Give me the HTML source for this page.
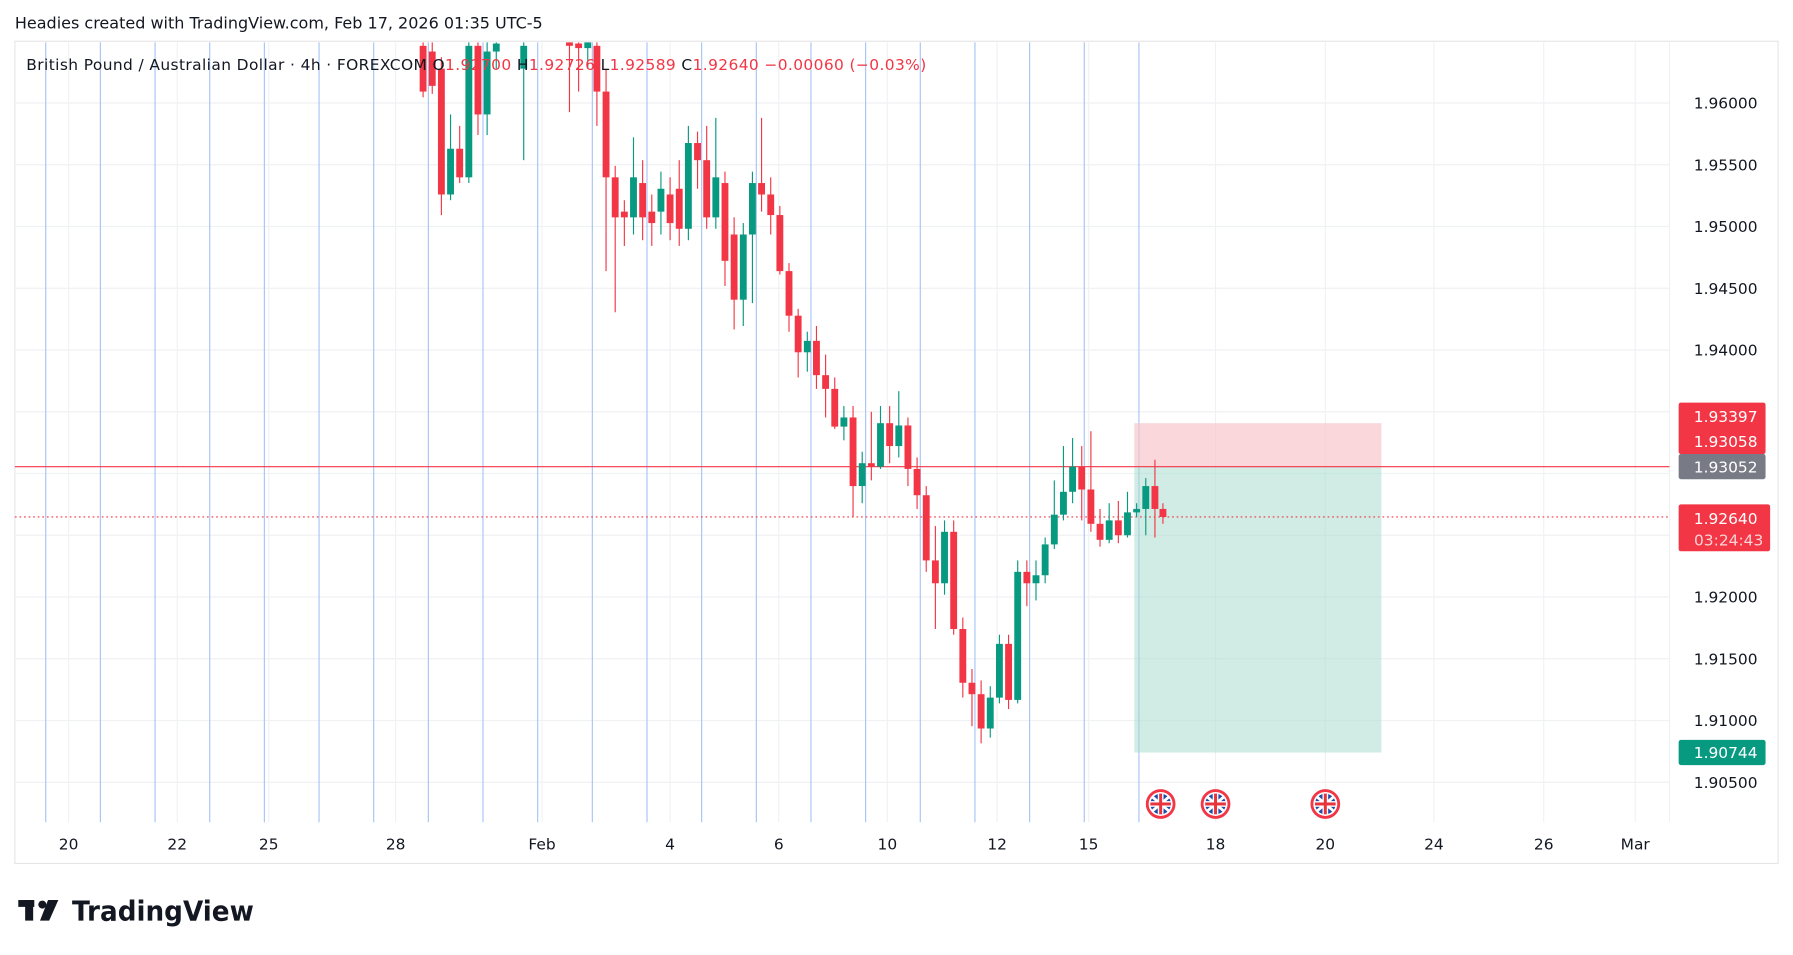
<!DOCTYPE html>
<html><head><meta charset="utf-8"><style>
html,body{margin:0;padding:0;background:#fff;width:1793px;height:955px;overflow:hidden}
svg{display:block}
text{font-family:"DejaVu Sans","Liberation Sans",sans-serif}
</style></head><body>
<svg id="s" width="1793" height="955" viewBox="0 0 1568 835" xmlns="http://www.w3.org/2000/svg">
<rect width="1568" height="835" fill="#fff"/>
<text x="13" y="25" font-size="14" fill="#131722">Headies created with TradingView.com, Feb 17, 2026 01:35 UTC-5</text>
<rect x="13" y="36" width="1542" height="719" fill="none" stroke="#e6e6e6"/>
<g id="grid"></g>
<g id="vl"></g>
<rect x="992" y="370" width="216" height="38" fill="#f7c6cc" opacity="0.7"/>
<rect x="992" y="408" width="216" height="250" fill="#a9dccf" opacity="0.55"/>
<line x1="13" y1="408" x2="1460" y2="408" stroke="#f23645" stroke-width="1"/>
<line x1="13" y1="452" x2="1460" y2="452" stroke="#f23645" stroke-width="1" stroke-dasharray="1.5,2.5"/>
<g id="c"></g>
<text x="23" y="61" font-size="13.5" fill="#131722" textLength="787" lengthAdjust="spacing">British Pound / Australian Dollar · 4h · FOREXCOM  <tspan fill="#131722">O</tspan><tspan fill="#f23645">1.92700</tspan>  <tspan>H</tspan><tspan fill="#f23645">1.92726</tspan>  <tspan>L</tspan><tspan fill="#f23645">1.92589</tspan>  <tspan>C</tspan><tspan fill="#f23645">1.92640  −0.00060 (−0.03%)</tspan></text>
<g id="pl" font-size="13.5" fill="#131722" text-anchor="end"></g>
<rect x="1468" y="352" width="76" height="45" rx="2" fill="#f23645"/>
<text x="1537" y="369" font-size="13.5" fill="#fff" text-anchor="end">1.93397</text>
<text x="1537" y="391" font-size="13.5" fill="#fff" text-anchor="end">1.93058</text>
<rect x="1468" y="397" width="76" height="22" rx="2" fill="#787b86"/>
<text x="1537" y="413" font-size="13.5" fill="#fff" text-anchor="end">1.93052</text>
<rect x="1468" y="441" width="80" height="41" rx="2" fill="#f23645"/>
<text x="1537" y="458" font-size="13.5" fill="#fff" text-anchor="end">1.92640</text>
<text x="1542" y="477" font-size="13.5" fill="#fcd3d7" text-anchor="end">03:24:43</text>
<rect x="1468" y="647" width="76" height="22" rx="2" fill="#089981"/>
<text x="1537" y="663" font-size="13.5" fill="#fff" text-anchor="end">1.90744</text>
<g id="fl"></g>
<g id="tl" font-size="13.5" fill="#131722" text-anchor="middle"></g>
<g fill="#131722"><rect x="16" y="787" width="14" height="6"/><rect x="22" y="787" width="7" height="18"/><circle cx="37" cy="791" r="3.5"/><polygon points="42,787 51,787 43,805 35,805"/></g>
<text x="63" y="805" font-size="24" font-weight="bold" fill="#131722" font-family="Liberation Sans" textLength="159" lengthAdjust="spacingAndGlyphs">TradingView</text>
</svg>
<script>
var NS="http://www.w3.org/2000/svg";
function el(p,t,a){var e=document.createElementNS(NS,t);for(var k in a)e.setAttribute(k,a[k]);document.getElementById(p).appendChild(e);return e;}
[90,144,198,252,306,360,414,468,522,576,630,684].forEach(function(y){el("grid","line",{x1:13,x2:1460,y1:y,y2:y,stroke:"#f0f1f3"});});
var tl=[[60,"20"],[155,"22"],[235,"25"],[346,"28"],[474,"Feb"],[586,"4"],[681,"6"],[776,"10"],[872,"12"],[952,"15"],[1063,"18"],[1159,"20"],[1254,"24"],[1350,"26"],[1430,"Mar"]];
tl.forEach(function(t){el("grid","line",{x1:t[0],x2:t[0],y1:37,y2:719,stroke:"#f0f1f3"});var e=el("tl","text",{x:t[0],y:743});e.textContent=t[1];});
for(var i=0;i<21;i++){var x=40+i*47.8;el("vl","line",{x1:x,x2:x,y1:37,y2:719,stroke:"#a8c4f5","stroke-width":1});}
var pr=["1.96000","1.95500","1.95000","1.94500","1.94000","1.93500","1.93000","1.92500","1.92000","1.91500","1.91000","1.90500"];
pr.forEach(function(p,i){var y=90+i*54;if(i==5||i==6||i==7)return;var e=el("pl","text",{x:1537,y:y+5});e.textContent=p;});
el("grid","line",{x1:1460,x2:1460,y1:37,y2:719,stroke:"#f0f1f3"});
var C=[[370,40,80,30,85],[378,45,75,36,82],[386,60,170,50,188],[394,170,130,100,175],[402,130,155,110,160],[410,155,40,30,160],[418,40,100,30,118],[426,100,45,36,118],[434,45,38,30,60],[458,60,40,30,140],[498,36,40,30,98],[506,38,42,30,80],[514,42,36,30,60],[522,40,80,30,110],[530,80,155,60,237],[538,155,190,145,273],[546,185,190,175,215],[554,190,155,120,205],[562,160,190,140,210],[570,185,195,170,215],[578,185,165,150,205],[586,170,195,155,210],[594,165,200,140,215],[602,200,125,110,210],[610,125,140,115,165],[618,140,190,110,200],[626,190,155,103,200],[634,160,228,150,250],[642,205,262,190,288],[650,262,205,195,285],[658,205,160,150,265],[666,160,170,103,185],[674,170,188,155,205],[682,188,237,180,240],[690,237,276,230,290],[698,276,308,270,330],[706,308,298,290,325],[714,298,328,285,340],[722,328,340,310,365],[730,340,373,330,375],[738,373,365,355,385],[746,365,425,355,452],[754,425,405,395,440],[762,405,408,360,420],[770,408,370,355,410],[778,370,390,355,405],[786,390,372,342,400],[794,372,410,365,425],[802,410,433,400,445],[810,433,490,425,500],[818,490,510,460,550],[826,510,465,455,520],[834,465,550,455,555],[842,550,597,540,610],[850,597,607,585,635],[858,607,637,595,650],[866,637,610,600,645],[874,610,563,555,615],[882,563,612,555,620],[890,612,500,490,615],[898,500,510,490,530],[906,510,503,490,525],[914,503,476,470,510],[922,476,450,420,480],[930,450,430,390,455],[938,430,408,383,440],[946,408,428,390,455],[954,428,458,377,465],[962,458,472,445,478],[970,472,455,440,475],[978,455,468,438,475],[986,468,448,430,470],[994,448,445,440,452],[1002,445,425,418,468],[1010,425,445,402,470],[1017,445,452,440,458]];
C.forEach(function(c){var up=c[2]<c[1];var col=up?"#089981":"#f23645";var top=Math.max(37,Math.min(c[1],c[2]));var bot=Math.max(c[1],c[2]);if(bot<37)return;
el("c","line",{x1:c[0],x2:c[0],y1:Math.max(37,c[3]),y2:c[4],stroke:col,"stroke-width":1});
el("c","rect",{x:c[0]-3,y:top,width:6,height:Math.max(1.5,bot-top),fill:col});});
[1015,1063,1159].forEach(function(x){var y=703;
el("fl","circle",{cx:x,cy:y,r:13,fill:"#f23645"});el("fl","circle",{cx:x,cy:y,r:10.5,fill:"#fff"});el("fl","circle",{cx:x,cy:y,r:9,fill:"#1e4aa8"});
el("fl","line",{x1:x-7,y1:y-6,x2:x+7,y2:y+6,stroke:"#fff","stroke-width":2.5});el("fl","line",{x1:x-7,y1:y+6,x2:x+7,y2:y-6,stroke:"#fff","stroke-width":2.5});
el("fl","rect",{x:x-9,y:y-2.5,width:18,height:5,fill:"#fff"});el("fl","rect",{x:x-2.5,y:y-9,width:5,height:18,fill:"#fff"});
el("fl","rect",{x:x-9,y:y-1.3,width:18,height:2.6,fill:"#e8323c"});el("fl","rect",{x:x-1.3,y:y-9,width:2.6,height:18,fill:"#e8323c"});});
</script>
</body></html>
